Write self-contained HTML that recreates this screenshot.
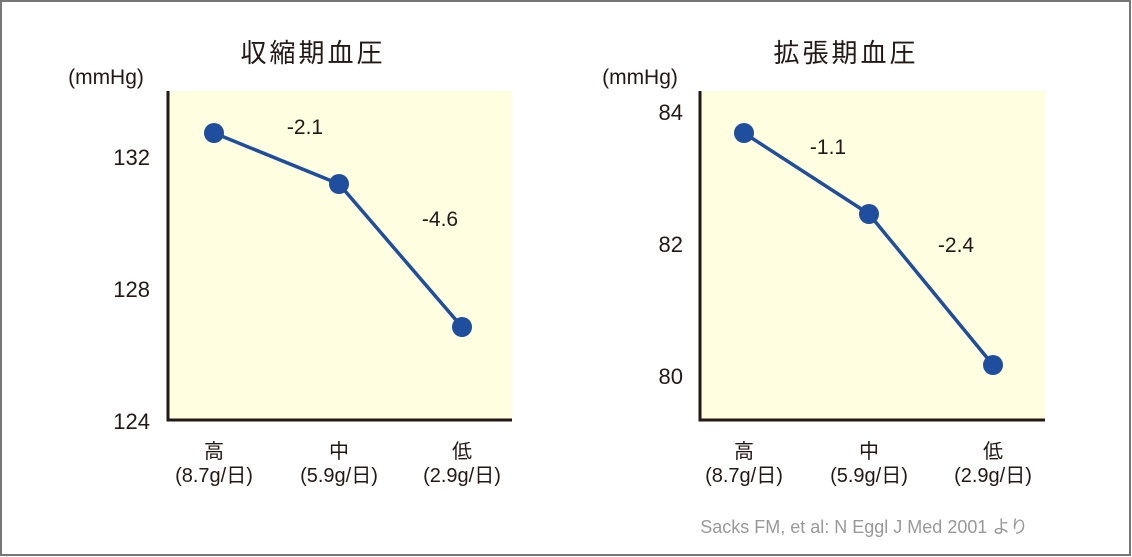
<!DOCTYPE html>
<html><head><meta charset="utf-8"><style>
html,body{margin:0;padding:0;background:#fff}
svg{display:block}
text{font-family:"Liberation Sans","Noto Sans CJK JP",sans-serif;fill:#231815}
</style></head><body>
<svg width="1132" height="557" viewBox="0 0 1132 557">
<rect x="1" y="1" width="1129" height="554" fill="#fff" stroke="#777" stroke-width="2"/>
<!-- left chart -->
<rect x="168" y="91" width="344" height="329" fill="#fffee0"/>
<path d="M168 91 V420 H512" fill="none" stroke="#231815" stroke-width="3"/>
<text x="313" y="62" font-size="26" letter-spacing="3" text-anchor="middle">収縮期血圧</text>
<text x="106" y="84" font-size="21" text-anchor="middle">(mmHg)</text>
<text x="150" y="165" font-size="22" text-anchor="end">132</text>
<text x="150" y="297" font-size="22" text-anchor="end">128</text>
<text x="150" y="429" font-size="22" text-anchor="end">124</text>
<polyline points="214,133 339,184 462,327" fill="none" stroke="#1f4e9e" stroke-width="3.5"/>
<circle cx="214" cy="133" r="10" fill="#1f4e9e"/><circle cx="339" cy="184" r="10" fill="#1f4e9e"/><circle cx="462" cy="327" r="10" fill="#1f4e9e"/>
<text x="305" y="134" font-size="21" text-anchor="middle">-2.1</text>
<text x="440" y="226" font-size="21" text-anchor="middle">-4.6</text>
<g font-size="20" text-anchor="middle">
<text x="214" y="458">高</text><text x="214" y="482">(8.7g/日)</text>
<text x="339" y="458">中</text><text x="339" y="482">(5.9g/日)</text>
<text x="462" y="458">低</text><text x="462" y="482">(2.9g/日)</text>
</g>
<!-- right chart -->
<rect x="700" y="91" width="345" height="329" fill="#fffee0"/>
<path d="M700 91 V420 H1045" fill="none" stroke="#231815" stroke-width="3"/>
<text x="846" y="62" font-size="26" letter-spacing="3" text-anchor="middle">拡張期血圧</text>
<text x="640" y="84" font-size="21" text-anchor="middle">(mmHg)</text>
<text x="683" y="120" font-size="22" text-anchor="end">84</text>
<text x="683" y="252" font-size="22" text-anchor="end">82</text>
<text x="683" y="384" font-size="22" text-anchor="end">80</text>
<polyline points="744,133 869,214 993,365" fill="none" stroke="#1f4e9e" stroke-width="3.5"/>
<circle cx="744" cy="133" r="10" fill="#1f4e9e"/><circle cx="869" cy="214" r="10" fill="#1f4e9e"/><circle cx="993" cy="365" r="10" fill="#1f4e9e"/>
<text x="828" y="154" font-size="21" text-anchor="middle">-1.1</text>
<text x="956" y="252" font-size="21" text-anchor="middle">-2.4</text>
<g font-size="20" text-anchor="middle">
<text x="744" y="458">高</text><text x="744" y="482">(8.7g/日)</text>
<text x="869" y="458">中</text><text x="869" y="482">(5.9g/日)</text>
<text x="993" y="458">低</text><text x="993" y="482">(2.9g/日)</text>
</g>
<text x="1028" y="533" font-size="18" text-anchor="end" style="fill:#999">Sacks FM, et al: N Eggl J Med 2001 より</text>
</svg>
</body></html>
